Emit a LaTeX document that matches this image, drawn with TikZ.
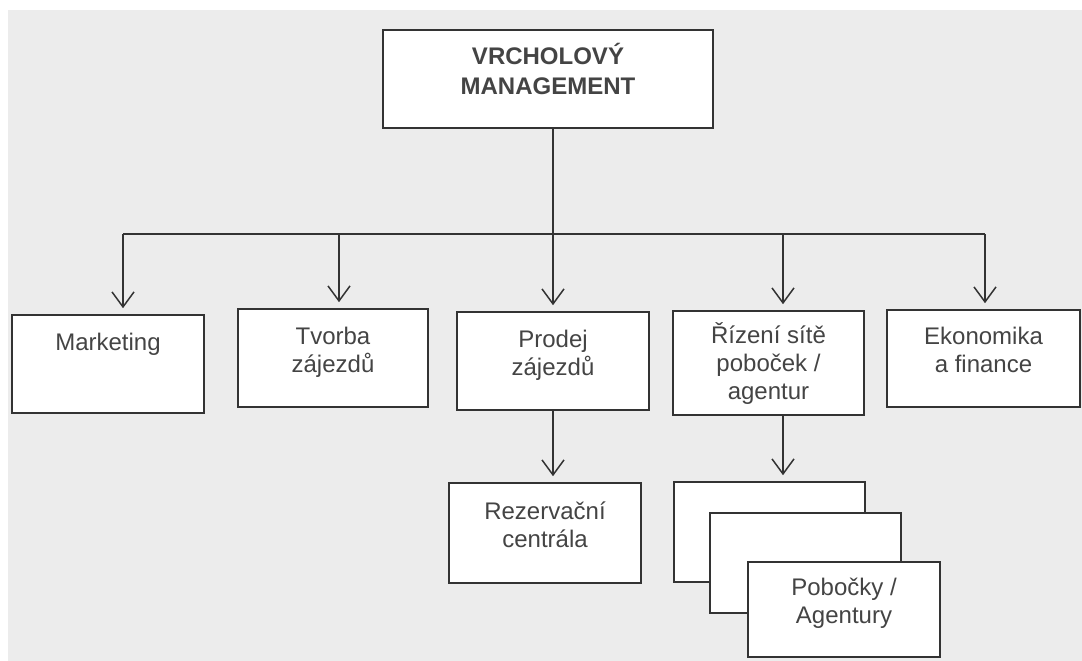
\documentclass[tikz,border=0pt]{standalone}
\usepackage{fontspec}
\setmainfont{Liberation Sans}
\usetikzlibrary{arrows.meta,positioning}

\definecolor{paper}{HTML}{ECECEC}
\definecolor{ink}{HTML}{333333}
\definecolor{lettering}{HTML}{444444}

\tikzset{
  unit/.style={draw=ink, line width=1.6pt, fill=white, inner sep=0pt,
    minimum width=192pt, minimum height=98pt, align=center,
    font=\fontsize{24}{28}\selectfont, text=lettering,
    text height=17pt, text depth=45pt},
  two lines/.style={text height=45pt, text depth=17pt},
  three lines/.style={text height=73pt, text depth=0pt},
  chief/.style={unit, minimum width=330pt,
    font=\fontsize{24}{30}\selectfont\bfseries,
    text height=47pt, text depth=15pt},
  link/.style={draw=ink, line width=1.5pt},
  arr/.style={link, -{Straight Barb[length=15pt,width=22pt]}, shorten >=6pt}
}

\begin{document}
\begin{tikzpicture}[x=1pt, y=-1pt]
  \useasboundingbox (0,0) rectangle (1082,661);
  \fill[white] (0,0) rectangle (1082,661);
  \fill[paper] (8,10) rectangle (1082,661);

  % boxes
  \node[chief] (top) at (548,79) {VRCHOLOVÝ\\MANAGEMENT};
  \node[unit] (marketing) at (108,364) {Marketing};
  \node[unit, two lines, minimum width=190pt] (tvorba) at (333,358) {Tvorba\\zájezdů};
  \node[unit, two lines] (prodej) at (553,361) {Prodej\\zájezdů};
  \node[unit, three lines, minimum width=191pt, minimum height=104pt]
    (rizeni) at (768.5,363) {Řízení sítě\\poboček /\\agentur};
  \node[unit, two lines, minimum width=193pt, minimum height=97pt]
    (ekonomika) at (983.5,358.5) {Ekonomika\\a finance};
  \node[unit, two lines, minimum height=100pt] (rezervace) at (545,533)
    {Rezervační\\centrála};

  % stacked branch boxes
  \node[unit, minimum width=191pt, minimum height=100pt] (branchA) at (769.5,532) {};
  \node[unit, minimum width=191pt, minimum height=100pt] (branchB) at (805.5,563) {};
  \node[unit, two lines, minimum height=95pt] (branchC) at (844,609.5) {Pobočky /\\Agentury};

  % bus
  \coordinate (busL) at (123,234);
  \coordinate (busR) at (985,234);
  \draw[link] (busL) -- (busR);
  \draw[arr] (top.south -| prodej.north) -- (prodej.north);
  \foreach \n/\x in {marketing/123, tvorba/339, rizeni/783, ekonomika/985}
    \draw[arr] (\x,234) -- (\x,234 |- \n.north);

  \draw[arr] (prodej.south) -- (prodej.south |- rezervace.north);
  \draw[arr] (783,0 |- rizeni.south) -- (783,0 |- branchA.north);
\end{tikzpicture}
\end{document}
